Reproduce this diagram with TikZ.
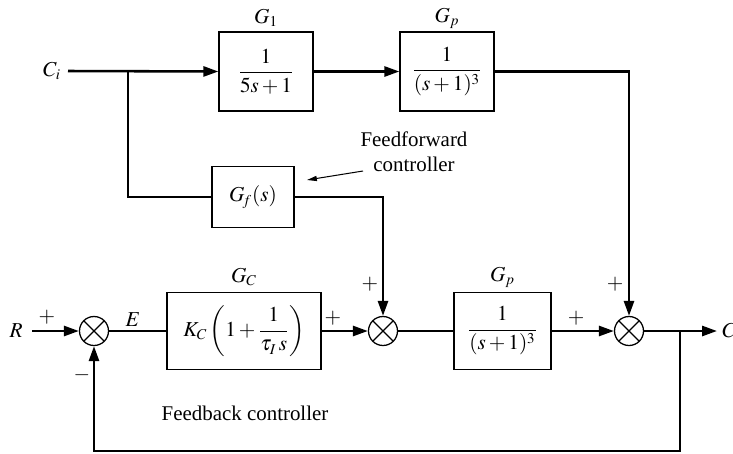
\documentclass[tikz,border=0pt]{standalone}
\usepackage{amsmath}
\usepackage{mathptmx}
\usepackage{fontspec}
\setmainfont{Liberation Serif}
\DeclareMathSizes{12.3}{12.5}{8.8}{6.5}
\usetikzlibrary{arrows.meta,calc}
\newdimen\pu \pu=0.588pt
\begin{document}
\begin{tikzpicture}[x=0.588pt,y=-0.588pt,
  font=\fontsize{12.3}{14.5}\selectfont,
  box/.style={draw, line width=0.75pt, inner sep=0pt, align=center},
  sumj/.style={draw, circle, line width=0.75pt, minimum size=29*\pu, inner sep=0pt,
     path picture={\draw[line width=0.65pt] (path picture bounding box.north west) -- (path picture bounding box.south east)
       (path picture bounding box.north east) -- (path picture bounding box.south west);}},
  sig/.style={line width=1.5pt},
  arr/.style={-{Triangle[length=8.8pt,width=5.9pt]}},
  lbl/.style={inner sep=0pt},
  note/.style={line width=0.6pt,-{Triangle[length=5.8pt,width=3pt]}}
]
\useasboundingbox (0,0) rectangle (733,453);
% blocks
\node[box, minimum width=94*\pu, minimum height=79*\pu] (g1) at (266,71.5) {$\dfrac{1}{5s+1}$};
\node[box, minimum width=94*\pu, minimum height=79*\pu] (gp1) at (447,71.5) {$\dfrac{1}{(s+1)^3}$};
\node[box, minimum width=82*\pu, minimum height=61*\pu] (gf) at (253,197) {$G_{\!f}(s)$};
\node[box, minimum width=154*\pu, minimum height=77*\pu] (gc) at (244,331) {$K_C\left(1+\dfrac{1}{\tau_I\mkern2mu s}\right)$};
\node[box, minimum width=97*\pu, minimum height=77*\pu] (gp2) at (502.5,331) {$\dfrac{1}{(s+1)^3}$};
\node[sumj] (s1) at (94,331) {};
\node[sumj] (s2) at (383,331) {};
\node[sumj] (s3) at (629,331) {};
% labels
\node[lbl] (lg1) at (266,18) {$G_1$};
\node[lbl] (lgp1) at (447,18) {$G_p$};
\node[lbl] (lgc) at (244,277) {$G_C$};
\node[lbl] (lgp2) at (502.5,277) {$G_p$};
\node[lbl] (lci) at (52,71) {$C_i$};
\node[lbl] (lr) at (16,331) {$R$};
\node[lbl, anchor=west] (lc) at (722,331) {$C$};
\node[lbl] (le) at (133,320) {$E$};
\node[lbl] (p1) at (47,317) {$+$};
\node[lbl] (p2) at (333,318) {$+$};
\node[lbl] (m1) at (82,375) {$-$};
\node[lbl] (p3) at (370,284) {$+$};
\node[lbl] (p4) at (576,318) {$+$};
\node[lbl] (p5) at (615,284) {$+$};
\node[lbl] (fbc) at (245,413) {Feedback controller};
\node[lbl, align=center] (ffc) at (414,152) {Feedforward\\controller};
% coordinates
\coordinate (ci) at (68,71);
\coordinate (br) at (128,71);
\coordinate (r) at (32,331);
\coordinate (out) at (717,331);
\coordinate (fb) at (680,331);
\coordinate (fbb) at (680,451);
\coordinate (na) at (363,171);
\coordinate (nb) at (307,180);
% connectors
\draw[sig,arr] (ci) -- (g1.west);
\draw[sig] (br) |- (gf.west);
\draw[sig,arr] (gf.east) -| (s2.north);
\draw[sig,arr] (g1.east) -- (gp1.west);
\draw[sig,arr] (gp1.east) -| (s3.north);
\draw[sig,arr] (r) -- (s1.west);
\draw[sig] (s1.east) -- (gc.west);
\draw[sig,arr] (gc.east) -- (s2.west);
\draw[sig] (s2.east) -- (gp2.west);
\draw[sig,arr] (gp2.east) -- (s3.west);
\draw[sig,arr] (s3.east) -- (out);
\draw[sig,arr] (fb) -- (fbb) -| (s1.south);
\draw[note] (na) -- (nb);
\end{tikzpicture}
\end{document}
